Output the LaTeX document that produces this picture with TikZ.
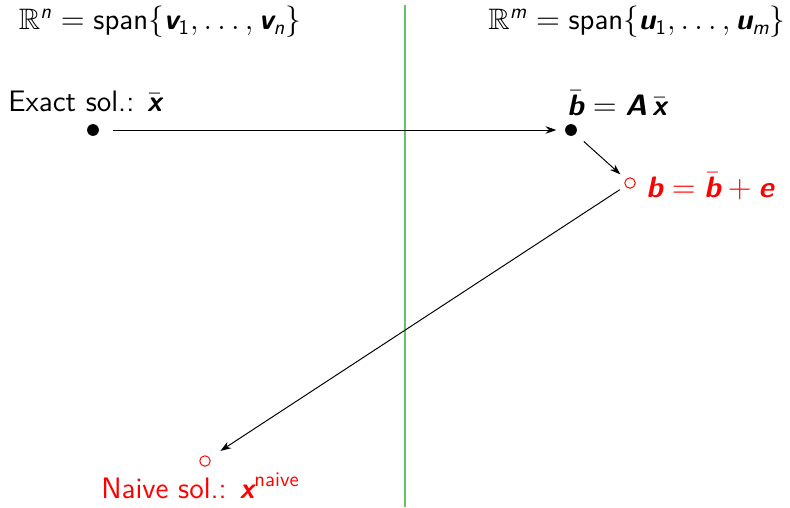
\documentclass[tikz,border=0pt]{standalone}
\usepackage{amsmath,amssymb}
\usetikzlibrary{arrows.meta}
\definecolor{divgreen}{RGB}{100,195,100}
\newcommand\bv[1]{\text{\sffamily\bfseries\slshape #1}}
\newcommand\iv[1]{\text{\sffamily\slshape #1}}
\newcommand\sn[1]{\text{\sffamily #1}}
\tikzset{
  dot/.style={circle,fill=black,inner sep=0pt,minimum size=5.4pt},
  odot/.style={circle,draw=red,inner sep=0pt,minimum size=4.8pt,line width=0.45pt},
  arr/.style={-{Stealth[length=5pt,width=3.4pt]},line width=0.45pt},
  lbl/.style={font=\sffamily\fontsize{13.6}{16}\selectfont,inner sep=0pt},
}
\begin{document}
\begin{tikzpicture}[x=0.4595pt,y=-0.4595pt]
\useasboundingbox (0,0) rectangle (790,507);
\draw[divgreen,line width=0.5pt] (405,5) coordinate (gt) -- (405,507) coordinate (gb);
\node[lbl] (hl) at (160,22) {$\mathbb{R}^{\iv{n}} = \sn{span}\{\bv{v}_{\sn{1}},\ldots,\bv{v}_{\iv{n}}\}$};
\node[lbl] (hr) at (637,22) {$\mathbb{R}^{\iv{m}} = \sn{span}\{\bv{u}_{\sn{1}},\ldots,\bv{u}_{\iv{m}}\}$};
\node[dot] (x) at (93,130) {};
\node[dot] (bb) at (571,130) {};
\node[odot] (b) at (630,183) {};
\node[odot] (xn) at (205,461) {};
\node[lbl,anchor=west] (lx) at (8,101) {Exact sol.: $\bar{\bv{x}}$};
\node[lbl,anchor=west] (lbb) at (567,103) {$\bar{\bv{b}} = \bv{A}\,\bar{\bv{x}}$};
\node[lbl,anchor=west,text=red] (lb) at (646,186) {$\bv{b} = \bar{\bv{b}} + \bv{e}$};
\node[lbl,anchor=west,text=red] (lxn) at (101,486) {Naive sol.: $\bv{x}^{\sn{naive}}$};
\draw[arr,shorten <=6.5pt,shorten >=3.8pt] (x) -- (bb);
\draw[arr,shorten <=5pt,shorten >=3.3pt] (bb) -- (b);
\draw[arr,shorten <=3pt,shorten >=5.8pt] (b) -- (xn);
\end{tikzpicture}
\end{document}
